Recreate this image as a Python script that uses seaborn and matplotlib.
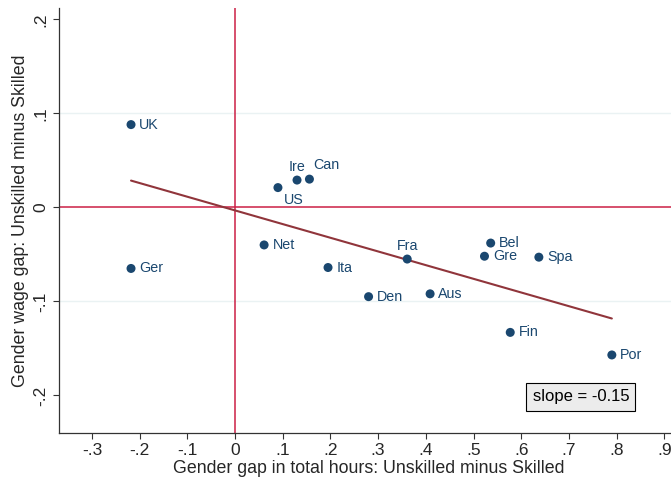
import numpy as np
import pandas as pd
import matplotlib
matplotlib.use("Agg")
import matplotlib.pyplot as plt
import seaborn as sns

countries = ["UK", "Ger", "US", "Ire", "Can", "Net", "Ita", "Fra", "Den", "Aus",
             "Bel", "Gre", "Spa", "Fin", "Por"]
hours_gap = [-0.218, -0.218, 0.090, 0.130, 0.156, 0.061, 0.195, 0.361, 0.280, 0.409,
             0.536, 0.523, 0.637, 0.577, 0.790]
wage_gap = [0.088, -0.065, 0.021, 0.029, 0.030, -0.040, -0.064, -0.055, -0.095, -0.092,
            -0.038, -0.052, -0.053, -0.133, -0.157]
label_pos = ["r", "r", "br", "t", "tr", "r", "r", "t", "r", "r",
             "r", "r", "r", "r", "r"]
xticks = [-0.3, -0.2, -0.1, 0, 0.1, 0.2, 0.3, 0.4, 0.5, 0.6, 0.7, 0.8, 0.9]
xticklabels = ["-.3", "-.2", "-.1", "0", ".1", ".2", ".3", ".4", ".5", ".6", ".7", ".8", ".9"]
yticks = [-0.2, -0.1, 0, 0.1, 0.2]
yticklabels = ["-.2", "-.1", "0", ".1", ".2"]
slope_text = "slope = -0.15"

df = pd.DataFrame({"country": countries, "hours": hours_gap, "wage": wage_gap})

sns.set_style("white")
plt.rcParams["font.family"] = ["Liberation Sans", "DejaVu Sans"]

navy = "#1a476f"
maroon = "#90353b"
red = "#cc1f45"

fig = plt.figure(figsize=(6.71, 4.82), dpi=100)
x0, x1 = -0.369, 0.93
y0, y1 = -0.240, 0.212
left = 59 / 671
bottom = 49 / 482
height = (433 - 8) / 482
width = (x1 - x0) * 477 / 671
ax = fig.add_axes([left, bottom, width, height])

for g in [-0.1, 0.1]:
    ax.axhline(g, color="#eaf2f3", lw=1.0, zorder=0)
ax.axhline(0, color=red, lw=1.1, zorder=1)
ax.axvline(0, color=red, lw=1.1, zorder=1)

sns.regplot(data=df, x="hours", y="wage", ax=ax, scatter=False, ci=None,
            line_kws=dict(color=maroon, lw=1.5, zorder=2))
sns.scatterplot(data=df, x="hours", y="wage", ax=ax, color=navy, s=42,
                edgecolor="none", linewidth=0, zorder=3)

offsets = {"r": ((6.0, 0), "left", "center"),
           "t": ((0, 4.5), "center", "bottom"),
           "tr": ((2.5, 5), "left", "bottom"),
           "br": ((4.5, -4), "left", "top")}
for c, xv, yv, p in zip(countries, hours_gap, wage_gap, label_pos):
    off, ha, va = offsets[p]
    ax.annotate(c, (xv, yv), xytext=off, textcoords="offset points",
                ha=ha, va=va, color=navy, fontsize=10.3)

ax.text(0.725, -0.2015, slope_text, ha="center", va="center", fontsize=12,
        color="black",
        bbox=dict(boxstyle="square,pad=0.38", fc="#ececec", ec="black", lw=0.8))

ax.set_xlim(x0, x1)
ax.set_ylim(y0, y1)
ax.set_xticks(xticks)
ax.set_xticklabels(xticklabels, fontsize=12.5)
ax.set_yticks(yticks)
ax.set_yticklabels(yticklabels, fontsize=12.5, rotation=90, va="center")
ax.tick_params(axis="both", direction="out", length=4.5, width=0.8, color="#333333",
               left=True, bottom=True, pad=3)
for s in ["top", "right"]:
    ax.spines[s].set_visible(False)
for s in ["left", "bottom"]:
    ax.spines[s].set_color("#333333")
    ax.spines[s].set_linewidth(0.9)

ax.set_xlabel("Gender gap in total hours: Unskilled minus Skilled", fontsize=12.8, labelpad=1)
ax.set_ylabel("Gender wage gap: Unskilled minus Skilled", fontsize=12.8, labelpad=3)

fig.savefig("out.png", dpi=100)
